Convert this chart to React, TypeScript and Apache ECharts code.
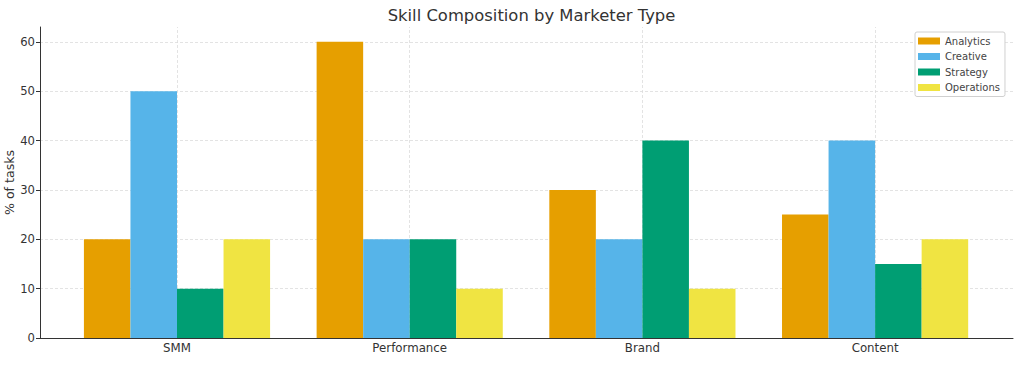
import React, { useEffect, useRef } from "react";
import * as echarts from "echarts";

const categories = ["SMM", "Performance", "Brand", "Content"];
const seriesNames = ["Analytics", "Creative", "Strategy", "Operations"];
const analytics = [20, 60, 30, 25];
const creative = [50, 20, 20, 40];
const strategy = [10, 20, 40, 15];
const operations = [20, 10, 10, 20];
const yTicks = [0, 10, 20, 30, 40, 50, 60];
const colors = ["#E69F00", "#56B4E9", "#009E73", "#F0E442"];
const yAxisTitle = "% of tasks";

const FONT = "DejaVu Sans";

export default function App() {
  const ref = useRef<HTMLDivElement>(null);
  useEffect(() => {
    document.body.style.margin = "0";
    const chart = echarts.init(ref.current!, null, { renderer: "svg" });
    const values = [analytics, creative, strategy, operations];
    const gridLine = { color: "#dcdcdc", width: 0.8, type: [3, 2] as any };
    chart.setOption({
      animation: false,
      backgroundColor: "#ffffff",
      textStyle: { fontFamily: FONT },
      title: {
        text: "Skill Composition by Marketer Type",
        left: 526.5,
        textAlign: "center",
        top: 2,
        textStyle: { fontFamily: FONT, fontSize: 16.4, fontWeight: "normal", color: "#333" },
      },
      graphic: [
        {
          type: "text",
          x: 9,
          y: 182.5,
          rotation: Math.PI / 2,
          style: {
            text: yAxisTitle,
            fontFamily: FONT,
            fontSize: 12.6,
            fill: "#333",
            align: "center",
            verticalAlign: "middle",
          },
        },
      ],
      legend: {
        data: seriesNames,
        orient: "vertical",
        left: 915,
        top: 32,
        itemWidth: 22,
        itemHeight: 7,
        itemGap: 3.5,
        itemTextGap: 8,
        itemStyle: { borderWidth: 0 },
        padding: [3, 5, 3, 3],
        backgroundColor: "#ffffff",
        borderColor: "#d0d0d0",
        borderWidth: 1,
        borderRadius: 2,
        textStyle: { fontFamily: FONT, fontSize: 10, color: "#444", lineHeight: 12 },
        icon: "rect",
      },
      grid: [
        { left: 40, right: 11, top: 27, bottom: 27, containLabel: false, outerBoundsMode: "none" },
        { left: 60.65, right: 1024 - 991.45, top: 27, bottom: 27, containLabel: false, outerBoundsMode: "none" },
      ],
      xAxis: [
        {
          type: "value",
          gridIndex: 0,
          min: 0,
          max: 1,
          axisLine: { show: true, lineStyle: { color: "#333", width: 1 } },
          axisTick: { show: false },
          axisLabel: { show: false },
          splitLine: { show: false },
        },
        {
          type: "category",
          gridIndex: 1,
          data: categories,
          axisLine: { show: false },
          axisTick: { show: false },
          axisLabel: { fontFamily: FONT, fontSize: 11.8, color: "#333", margin: 4 },
          splitLine: { show: false },
        },
      ],
      yAxis: [
        {
          type: "value",
          gridIndex: 0,
          min: 0,
          max: 63,
          interval: 10,
          axisLine: { show: true, lineStyle: { color: "#333", width: 1 } },
          axisTick: { show: true, length: 4, lineStyle: { color: "#333" }, customValues: yTicks },
          axisLabel: { fontFamily: FONT, fontSize: 11.6, color: "#333", margin: 5, customValues: yTicks },
          splitLine: { show: true, lineStyle: gridLine },
        },
        {
          type: "value",
          gridIndex: 1,
          min: 0,
          max: 63,
          show: false,
          splitLine: { show: false },
        },
      ],
      series: [
        {
          type: "line",
          xAxisIndex: 1,
          yAxisIndex: 1,
          data: [],
          z: 0,
          zlevel: 0,
          silent: true,
          markLine: {
            silent: true,
            z: 0,
            symbol: "none",
            label: { show: false },
            lineStyle: gridLine,
            data: categories.map((c) => ({ xAxis: c })),
          },
        },
        ...seriesNames.map((name, i) => ({
          name,
          type: "bar",
          xAxisIndex: 1,
          yAxisIndex: 1,
          data: values[i],
          barGap: "0%",
          barCategoryGap: "20%",
          itemStyle: { color: colors[i] },
          z: 3,
        })),
      ],
    });
    return () => chart.dispose();
  }, []);
  return <div ref={ref} style={{ width: 1024, height: 365 }} />;
}
